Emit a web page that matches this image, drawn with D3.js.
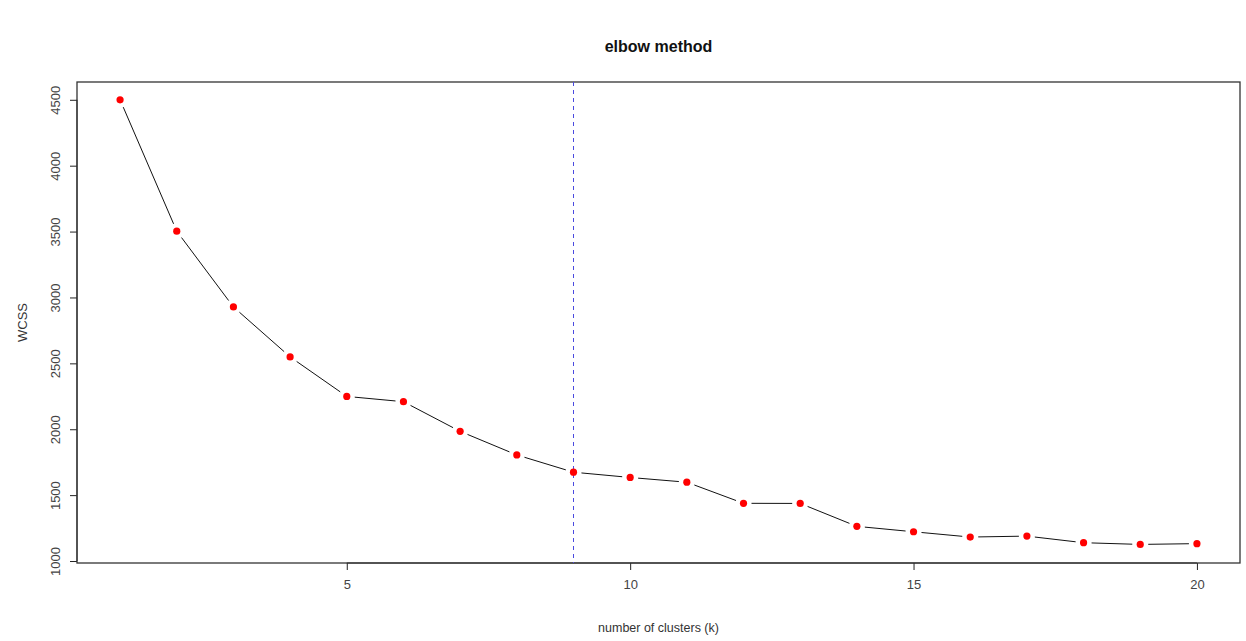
<!DOCTYPE html>
<html lang="en">
<head>
  <meta charset="UTF-8">
  <title>elbow method</title>
  <script src="https://d3js.org/d3.v7.min.js"></script>
  <style>
    body { margin: 0; background: #fff; font-family: 'Liberation Sans', Arial, sans-serif; }
    .axis text { font-size: 13px; fill: #444; font-family: 'Liberation Sans', Arial, sans-serif; }
    .axis path, .axis line { stroke: #222; }
  </style>
</head>
<body>
<div id="chart"></div>
<script>
  // k values and within-cluster sum of squares
  const clusters = d3.range(1, 21);
  const wcss = [4500, 3503, 2928, 2549, 2249, 2209, 1984, 1805, 1674, 1634,
                1598, 1438, 1437, 1263, 1222, 1182, 1189, 1139, 1126, 1132];
  const xTicks = [5, 10, 15, 20];
  const yTicks = [1000, 1500, 2000, 2500, 3000, 3500, 4000, 4500];
  const elbowK = 9;

  const W = 1246, H = 641;
  const margin = { top: 82, right: 6, bottom: 78, left: 77 };
  const w = W - margin.left - margin.right;
  const h = H - margin.top - margin.bottom;

  const svg = d3.select("#chart").append("svg")
    .attr("width", W).attr("height", H);
  const g = svg.append("g")
    .attr("transform", `translate(${margin.left},${margin.top})`);

  // R style 4% padding on both axes
  const x = d3.scaleLinear().domain([0.24, 20.76]).range([0, w]);
  const y = d3.scaleLinear().domain([985, 4635]).range([h, 0]);

  // x axis (line only from first to last tick, like base R)
  const xa = g.append("g").attr("class", "axis")
    .attr("transform", `translate(0,${h})`)
    .call(d3.axisBottom(x).tickValues(xTicks).tickSize(7).tickPadding(10).tickSizeOuter(0));
  xa.select(".domain").attr("d", `M${x(xTicks[0])},0H${x(xTicks[xTicks.length - 1])}`);

  const ya = g.append("g").attr("class", "axis")
    .call(d3.axisLeft(y).tickValues(yTicks).tickFormat(d3.format("d")).tickSize(7).tickSizeOuter(0));
  ya.select(".domain").attr("d", `M0,${y(yTicks[0])}V${y(yTicks[yTicks.length - 1])}`);
  ya.selectAll(".tick text")
    .attr("transform", "rotate(-90)")
    .attr("x", 0).attr("y", -22)
    .attr("dy", "0.35em")
    .style("text-anchor", "middle");

  // plot box
  g.append("rect")
    .attr("width", w).attr("height", h)
    .attr("fill", "none").attr("stroke", "#333").attr("stroke-width", 1.3);

  // line segments with gaps around the points (type = "b")
  const gap = 8;
  for (let i = 0; i < clusters.length - 1; i++) {
    const x1 = x(clusters[i]), y1 = y(wcss[i]);
    const x2 = x(clusters[i + 1]), y2 = y(wcss[i + 1]);
    const len = Math.hypot(x2 - x1, y2 - y1);
    if (len <= 2 * gap) continue;
    const ux = (x2 - x1) / len, uy = (y2 - y1) / len;
    g.append("line")
      .attr("x1", x1 + ux * gap).attr("y1", y1 + uy * gap)
      .attr("x2", x2 - ux * gap).attr("y2", y2 - uy * gap)
      .attr("stroke", "#111").attr("stroke-width", 1);
  }

  // elbow marker, snapped to a pixel centre so the blue stays crisp
  const ex = Math.round(x(elbowK)) + 0.5;
  g.append("line")
    .attr("x1", ex).attr("x2", ex)
    .attr("y1", 0).attr("y2", h)
    .attr("stroke", "#4a4ae0").attr("stroke-width", 1)
    .attr("stroke-dasharray", "4,4");

  g.selectAll(".pt")
    .data(clusters)
    .enter().append("circle")
    .attr("class", "pt")
    .attr("cx", d => x(d))
    .attr("cy", (d, i) => y(wcss[i]))
    .attr("r", 3.6)
    .attr("fill", "#ff0000");

  // titles
  svg.append("text")
    .attr("x", margin.left + w / 2).attr("y", 52)
    .attr("text-anchor", "middle")
    .style("font-size", "16px").style("font-weight", "bold").style("fill", "#111")
    .text("elbow method");

  svg.append("text")
    .attr("x", margin.left + w / 2).attr("y", 632)
    .attr("text-anchor", "middle")
    .style("font-size", "12.5px").style("fill", "#333")
    .text("number of clusters (k)");

  svg.append("text")
    .attr("transform", `translate(27,${margin.top + h / 2}) rotate(-90)`)
    .attr("text-anchor", "middle")
    .style("font-size", "13px").style("fill", "#333")
    .text("WCSS");
</script>
</body>
</html>
